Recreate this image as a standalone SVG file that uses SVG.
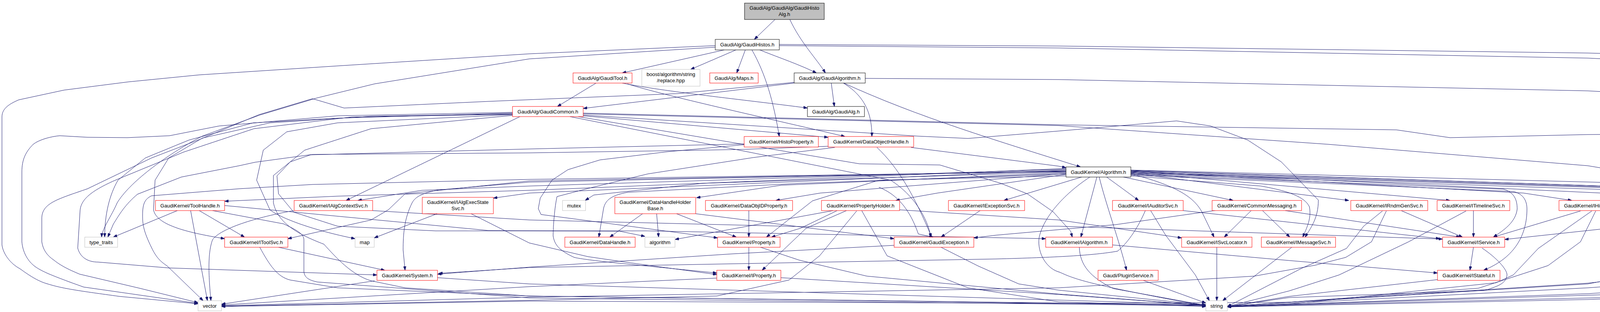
<svg xmlns="http://www.w3.org/2000/svg" width="5420" height="800" viewBox="0 0 5420 800">
<style>
.nd rect{fill:#fff;stroke-width:1}
.r rect{stroke:#ff0000}
.k rect{stroke:#000}
.g rect{stroke:#bfbfbf}
.root rect{fill:#bfbfbf;stroke:#000}
.nd text{font-family:"Liberation Sans",Arial,Helvetica,sans-serif;font-size:13px;text-anchor:middle;fill:#000}
#edges path{fill:none;stroke:#191970;stroke-width:1;marker-end:url(#a)}
</style>
<defs>
<marker id="a" viewBox="0 0 10 7" refX="10" refY="3.5" markerWidth="10" markerHeight="7" markerUnits="userSpaceOnUse" orient="auto"><path d="M0,0L10,3.5L0,7z" fill="#191970" stroke="#191970"/></marker>
</defs>
<rect width="5420" height="800" fill="#fff"/>
<g id="edges">
<path d="M1984,50 L1931,101"/>
<path d="M2022,50 C2050,110 2090,150 2113,187"/>
<path d="M1854,128 L1593,187"/>
<path d="M1884,128 L1768,178"/>
<path d="M1908,128 L1886,187"/>
<path d="M1945,128 C2000,150 2045,165 2090,187"/>
<path d="M1925,128 C1960,190 1980,260 1995,350"/>
<path d="M1995,114 L2710,118 L4065,136 L5093,164 C5170,175 5205,185 5235,225 C5270,275 5300,350 5310,428"/>
<path d="M1995,117 L2710,123 L4065,149 L4583,174 L4895,203 L5098,238 C5150,260 5175,280 5178,300 L5186,608"/>
<path d="M1831,117 L1355,138 L864,169 L510,192 L328,210 L164,231 L48,256 C20,268 5,280 5,300 L5,628 C8,650 25,675 51,689 C80,710 100,722 122,728 C160,740 204,746 306,760 L507,779"/>
<path d="M1831,121 L1355,151 L959,215 L812,251 L665,295 L518,349 C420,400 330,470 300,520 C285,555 262,585 260,608"/>
<path d="M1526,213 L1427,273"/>
<path d="M1593,213 C1700,235 1900,255 2067,277"/>
<path d="M1606,215 C1700,245 1950,300 2163,350"/>
<path d="M2033,213 L1493,278"/>
<path d="M2035,211 L1735,240 L1250,260 L881,277 L800,253 L663,294 L510,358 L388,405 L224,484 C150,510 107,520 107,560 L107,620 C110,640 120,655 138,667 C160,685 190,697 204,703 L357,739 L507,776"/>
<path d="M2128,213 L2136,273"/>
<path d="M2159,213 C2220,250 2232,300 2232,350"/>
<path d="M2160,213 C2350,300 2550,360 2766,428"/>
<path d="M2215,201 L2710,204 L4065,233 L4583,261 L4877,290 L5054,320 C5100,335 5123,350 5123,380 L5123,625 C5118,660 5110,675 5098,685 C5050,700 4980,710 4929,716 L4826,733 L3142,786"/>
<path d="M1331,299 L886,514"/>
<path d="M1312,288 L864,297 L561,323 L434,348 L326,353 L224,352 L153,348 C130,350 100,358 85,370 C65,390 56,410 56,441 L56,620 C58,645 70,670 92,685 C110,697 133,707 214,736 L507,778"/>
<path d="M1312,290 L864,303 L648,315 L484,359 L372,405 L302,462 C280,500 268,550 268,608"/>
<path d="M1312,292 L950,298 L691,315 L518,354 L432,405 L397,462 L393,538 C400,575 470,595 575,612"/>
<path d="M1312,294 L864,315 L734,338 L674,385 L657,462 L691,538 C720,560 800,590 909,612"/>
<path d="M1312,296 L950,330 L780,385 L700,450 L700,520 C710,570 760,600 829,626 C860,660 900,705 950,720 L1037,738 L1355,759 L3087,782"/>
<path d="M1312,293 L900,300 L650,330 L470,390 L300,460 C230,490 207,513 205,540 L199,636 C205,660 225,672 251,672 L432,687 L965,705"/>
<path d="M1493,290 L2710,320 L3575,333 L3712,353 L4065,345 L4367,343 L4700,367 L4843,395 L4964,441 C5020,475 5050,500 5054,525 C5054,555 5030,568 4998,574 L4391,620"/>
<path d="M1493,292 L2710,322 L3400,370 L4065,425 L4601,514"/>
<path d="M1493,295 L2349,349 L2478,355 L2710,336 L3012,310 L3099,323 L3194,359 L3280,415 L3375,513 C3375,560 3355,585 3341,608"/>
<path d="M1493,297 L2120,352"/>
<path d="M1459,299 L2280,462 C2340,500 2375,560 2383,608"/>
<path d="M1480,299 L2200,420 L2406,423 L2562,470 L2630,497 L2696,543 L2741,593 L2745,608"/>
<path d="M1905,369 L1355,382 L795,397 L743,415 L709,451 L713,497 L752,544 L864,580 L1115,592 L1657,592 L2677,612"/>
<path d="M1905,371 L1709,389 L1536,410 L1454,435 L1413,462 L1383,508 L1378,535 L1385,550 L1837,610"/>
<path d="M2121,375 L1903,383 L1800,385 L1355,392 L800,396 L653,416 L612,425 L464,454 L352,498 C320,525 306,549 290,575 L276,608"/>
<path d="M2332,378 L2710,426 L2729,430"/>
<path d="M2245,378 C2300,430 2340,500 2385,608"/>
<path d="M2137,378 L1928,404 L1658,446 L1506,483 L1426,504 C1420,530 1416,580 1416,605 C1420,630 1434,643 1470,660 C1505,668 1607,677 1835,700"/>
<path d="M1206,548 L1355,623 L1505,658 L1607,673 L1835,704"/>
<path d="M2250,480 C2300,500 2330,540 2351,600 L2389,608"/>
<path d="M2729,432 L1355,488 L864,503 L575,516"/>
<path d="M2729,434 L1355,477 L1080,488 L916,514"/>
<path d="M2729,436 L1355,495 L1263,508"/>
<path d="M2729,438 L1355,467 L1123,487 C1080,495 1063,505 1055,520 C1035,560 1032,600 1032,641 L1037,693"/>
<path d="M2729,439 L1355,464 L1037,497 L994,538 L950,564 L737,612"/>
<path d="M2729,440 L1355,460 L800,473 L612,484 L388,502 C372,510 365,520 365,552 C365,575 367,592 388,635 C400,660 410,670 428,682 L520,771"/>
<path d="M2729,441 L1800,470 L1520,500 L1498,514"/>
<path d="M2729,443 L2000,475 L1783,507"/>
<path d="M2729,445 L2100,495 L1986,514"/>
<path d="M2729,447 L2400,495 L2293,514"/>
<path d="M2769,454 L2570,514"/>
<path d="M2808,454 L2767,608"/>
<path d="M2729,451 L2250,462 L2080,515 L1962,608"/>
<path d="M2729,446 L2050,470 L1607,493 C1570,500 1550,510 1545,535 L1533,608"/>
<path d="M2790,454 C2720,500 2670,560 2660,610 C2655,650 2680,690 2713,698 C2760,720 2805,732 3087,785"/>
<path d="M2814,454 C2830,520 2866,620 2884,693"/>
<path d="M2833,454 L2866,478 L2915,514"/>
<path d="M2876,454 L3157,514"/>
<path d="M2895,446 C3009,475 3060,505 3080,550 L3108,608"/>
<path d="M2895,451 L3228,477 C3300,490 3340,505 3352,530 C3358,560 3345,585 3335,608"/>
<path d="M2895,444 L3453,514"/>
<path d="M2895,442 L3712,514"/>
<path d="M2895,440 L3900,495 L4024,514"/>
<path d="M2895,439 L4100,495 L4245,514"/>
<path d="M2895,438 L4200,480 L4612,514"/>
<path d="M2895,437 L4500,490 L4879,514"/>
<path d="M2895,441 L4357,487 C4390,495 4408,507 4408,525 C4408,560 4385,580 4351,600"/>
<path d="M2895,443 L4391,490 C4420,497 4434,515 4434,561 C4430,600 4410,640 4339,693"/>
<path d="M2895,445 L4437,497 C4460,505 4490,540 4500,574 C4510,610 4515,650 4515,693"/>
<path d="M2895,436 L4724,484 C4760,492 4800,520 4810,557 C4818,590 4815,640 4807,693"/>
<path d="M2895,447 L3849,485 C3875,493 3884,510 3884,536 C3880,570 3850,590 3823,608"/>
<path d="M2895,449 L3874,491 C3900,497 3909,515 3909,536 C3909,600 3880,660 3798,693"/>
<path d="M454,540 L290,608"/>
<path d="M488,540 L531,771"/>
<path d="M510,540 L626,608"/>
<path d="M544,540 L726,574 C760,590 778,600 778,615 L778,697 C780,712 790,718 812,723 L1355,764 L3087,784"/>
<path d="M575,527 L1250,591 L1587,593 L1651,606"/>
<path d="M752,540 C640,560 560,590 544,615 C535,640 531,680 540,771"/>
<path d="M954,540 L1355,564 L2050,581 L2710,580 L3693,613"/>
<path d="M1119,548 L958,610"/>
<path d="M1645,548 L1561,608"/>
<path d="M1681,548 L1686,608"/>
<path d="M1732,548 L1885,608"/>
<path d="M1781,548 L2289,612"/>
<path d="M1917,540 L1917,608"/>
<path d="M2133,540 L1728,614"/>
<path d="M2143,540 L2050,585 L1975,608"/>
<path d="M2167,540 L2064,585 L1951,693"/>
<path d="M2193,541 L2098,656 L2020,718 L1835,759 L1355,770 L567,785"/>
<path d="M2206,540 L2271,656 L2478,738 L2710,774 L3087,786"/>
<path d="M2303,538 L2710,564 L3025,610"/>
<path d="M2509,540 L2409,608"/>
<path d="M3029,540 L3686,612"/>
<path d="M2945,539 L2984,603 L3060,705 L3096,771"/>
<path d="M2932,540 C2915,580 2890,620 2861,644 C2800,655 2700,660 2550,664 L1355,686 L1123,701"/>
<path d="M3290,540 L3738,608"/>
<path d="M3203,540 L3134,608"/>
<path d="M3232,540 L3302,608"/>
<path d="M3116,539 L2856,576 L2550,603 L2493,610"/>
<path d="M3587,540 L3744,608"/>
<path d="M3539,541 L3491,580 L3447,637 L3332,688 L3142,786"/>
<path d="M3549,541 L3511,620 L3445,660 L3367,680 L3211,708 L2710,738 L1355,762 L567,784"/>
<path d="M3772,540 L3772,608"/>
<path d="M3753,541 L3606,620 L3428,705 L3300,746 L3142,786"/>
<path d="M4046,541 L3823,608"/>
<path d="M4117,540 L4246,600"/>
<path d="M4075,541 L3938,637 L3874,705 L3830,725 L3300,780 L3142,787"/>
<path d="M4085,541 L4046,620 L3963,681 L3785,739 L3300,775 L2710,778 L1355,772 L567,786"/>
<path d="M4301,540 L4301,600"/>
<path d="M4567,537 L3852,614"/>
<path d="M4672,540 L4670,601 L4655,658 L4621,718 L4150,762 L3142,786"/>
<path d="M4973,540 L5162,610"/>
<path d="M5309,454 C5300,520 5280,580 5257,615 C5230,670 5180,710 5141,720 L5059,733 L4065,768 L3142,787"/>
<path d="M4264,642 L4186,682 L4117,718 L4065,728 L3142,785"/>
<path d="M4189,712 L4065,726 L3142,785"/>
<path d="M4425,712 L4065,738 L3142,786"/>
<path d="M4701,713 L4065,753 L3142,786"/>
<path d="M713,634 L985,693"/>
<path d="M665,634 C690,680 710,710 743,718 L864,738 L1355,759 L3087,783"/>
<path d="M1917,634 L1917,693"/>
<path d="M1947,634 L2046,667 L2219,708 L2710,754 L3087,783"/>
<path d="M2289,629 L1874,651 L1355,685 L1120,703"/>
<path d="M2409,634 L2504,682 L2608,728 L2710,744 L3087,782"/>
<path d="M2848,628 L3300,668 L3680,700"/>
<path d="M2763,634 C2765,680 2790,710 2850,740 L3087,783"/>
<path d="M3115,634 L3115,771"/>
<path d="M3307,634 L3130,771"/>
<path d="M3772,634 L3763,693"/>
<path d="M3794,636 C3830,660 3858,690 3858,705 C3855,725 3842,732 3800,745 L3300,763 L3142,786"/>
<path d="M959,720 L567,780"/>
<path d="M1120,712 L1355,728 L3087,781"/>
<path d="M1999,712 L2710,755 L3087,783"/>
<path d="M1835,713 L1355,735 L567,782"/>
<path d="M2927,719 L3087,777"/>
<path d="M3680,717 L3300,760 L3142,786"/>
</g>
<g id="n0" class="nd root"><rect x="1906" y="8" width="204" height="42"/><text x="2008" y="25">GaudiAlg/GaudiAlg/GaudiHisto</text><text x="2008" y="41">Alg.h</text></g>
<g id="n1" class="nd k"><rect x="1831" y="101" width="164" height="27"/><text x="1913" y="119">GaudiAlg/GaudiHistos.h</text></g>
<g id="n2" class="nd r"><rect x="1467" y="187" width="151" height="26"/><text x="1542.5" y="204.5">GaudiAlg/GaudiTool.h</text></g>
<g id="n3" class="nd g"><rect x="1643" y="178" width="149" height="43"/><text x="1717.5" y="195">boost/algorithm/string</text><text x="1717.5" y="211">/replace.hpp</text></g>
<g id="n4" class="nd r"><rect x="1817" y="187" width="124" height="26"/><text x="1879" y="204.5">GaudiAlg/Maps.h</text></g>
<g id="n5" class="nd k"><rect x="2033" y="187" width="182" height="26"/><text x="2124" y="204.5">GaudiAlg/GaudiAlgorithm.h</text></g>
<g id="n6" class="nd r"><rect x="1312" y="273" width="181" height="26"/><text x="1402.5" y="290.5">GaudiAlg/GaudiCommon.h</text></g>
<g id="n7" class="nd k"><rect x="2067" y="273" width="146" height="26"/><text x="2140" y="290.5">GaudiAlg/GaudiAlg.h</text></g>
<g id="n8" class="nd r"><rect x="1905" y="350" width="190" height="27"/><text x="2000" y="368">GaudiKernel/HistoProperty.h</text></g>
<g id="n9" class="nd r"><rect x="2120" y="350" width="219" height="27"/><text x="2229.5" y="368">GaudiKernel/DataObjectHandle.h</text></g>
<g id="n10" class="nd k"><rect x="2729" y="428" width="166" height="26"/><text x="2812" y="445.5">GaudiKernel/Algorithm.h</text></g>
<g id="n11" class="nd r"><rect x="5213" y="428" width="201" height="26"/><text x="5313.5" y="445.5">GaudiUtils/HistoTableFormat.h</text></g>
<g id="n12" class="nd r"><rect x="398" y="514" width="177" height="26"/><text x="486.5" y="531.5">GaudiKernel/ToolHandle.h</text></g>
<g id="n13" class="nd r"><rect x="753" y="514" width="201" height="26"/><text x="853.5" y="531.5">GaudiKernel/IAlgContextSvc.h</text></g>
<g id="n14" class="nd r"><rect x="1081" y="506" width="182" height="42"/><text x="1172" y="523">GaudiKernel/IAlgExecState</text><text x="1172" y="539">Svc.h</text></g>
<g id="n15" class="nd g"><rect x="1440" y="514" width="59" height="26"/><text x="1469.5" y="531.5">mutex</text></g>
<g id="n16" class="nd r"><rect x="1574" y="506" width="207" height="42"/><text x="1677.5" y="523">GaudiKernel/DataHandleHolder</text><text x="1677.5" y="539">Base.h</text></g>
<g id="n17" class="nd r"><rect x="1806" y="514" width="223" height="26"/><text x="1917.5" y="531.5">GaudiKernel/DataObjIDProperty.h</text></g>
<g id="n18" class="nd r"><rect x="2103" y="514" width="200" height="26"/><text x="2203" y="531.5">GaudiKernel/PropertyHolder.h</text></g>
<g id="n19" class="nd r"><rect x="2428" y="514" width="195" height="26"/><text x="2525.5" y="531.5">GaudiKernel/IExceptionSvc.h</text></g>
<g id="n20" class="nd r"><rect x="2848" y="514" width="181" height="26"/><text x="2938.5" y="531.5">GaudiKernel/IAuditorSvc.h</text></g>
<g id="n21" class="nd r"><rect x="3103" y="514" width="229" height="26"/><text x="3217.5" y="531.5">GaudiKernel/CommonMessaging.h</text></g>
<g id="n22" class="nd r"><rect x="3458" y="514" width="197" height="26"/><text x="3556.5" y="531.5">GaudiKernel/IRndmGenSvc.h</text></g>
<g id="n23" class="nd r"><rect x="3679" y="514" width="186" height="26"/><text x="3772" y="531.5">GaudiKernel/ITimelineSvc.h</text></g>
<g id="n24" class="nd r"><rect x="3991" y="514" width="197" height="26"/><text x="4089.5" y="531.5">GaudiKernel/IHistogramSvc.h</text></g>
<g id="n25" class="nd r"><rect x="4213" y="514" width="177" height="26"/><text x="4301.5" y="531.5">GaudiKernel/INTupleSvc.h</text></g>
<g id="n26" class="nd r"><rect x="4567" y="514" width="204" height="26"/><text x="4669" y="531.5">GaudiKernel/IChronoStatSvc.h</text></g>
<g id="n27" class="nd r"><rect x="4847" y="514" width="189" height="26"/><text x="4941.5" y="531.5">GaudiKernel/EventContext.h</text></g>
<g id="n28" class="nd g"><rect x="217" y="608" width="84" height="26"/><text x="259" y="625.5">type_traits</text></g>
<g id="n29" class="nd r"><rect x="575" y="608" width="162" height="26"/><text x="656" y="625.5">GaudiKernel/IToolSvc.h</text></g>
<g id="n30" class="nd g"><rect x="909" y="608" width="49" height="26"/><text x="933.5" y="625.5">map</text></g>
<g id="n31" class="nd r"><rect x="1446" y="608" width="180" height="26"/><text x="1536" y="625.5">GaudiKernel/DataHandle.h</text></g>
<g id="n32" class="nd g"><rect x="1651" y="608" width="77" height="26"/><text x="1689.5" y="625.5">algorithm</text></g>
<g id="n33" class="nd r"><rect x="1837" y="608" width="160" height="26"/><text x="1917" y="625.5">GaudiKernel/Property.h</text></g>
<g id="n34" class="nd r"><rect x="2289" y="608" width="204" height="26"/><text x="2391" y="625.5">GaudiKernel/GaudiException.h</text></g>
<g id="n35" class="nd r"><rect x="2677" y="608" width="171" height="26"/><text x="2762.5" y="625.5">GaudiKernel/IAlgorithm.h</text></g>
<g id="n36" class="nd r"><rect x="3025" y="608" width="180" height="26"/><text x="3115" y="625.5">GaudiKernel/ISvcLocator.h</text></g>
<g id="n37" class="nd r"><rect x="3229" y="608" width="190" height="26"/><text x="3324" y="625.5">GaudiKernel/IMessageSvc.h</text></g>
<g id="n38" class="nd r"><rect x="3693" y="608" width="159" height="26"/><text x="3772.5" y="625.5">GaudiKernel/IService.h</text></g>
<g id="n39" class="nd r"><rect x="4211" y="600" width="180" height="42"/><text x="4301" y="617">GaudiKernel/IDataProvider</text><text x="4301" y="633">Svc.h</text></g>
<g id="n40" class="nd g"><rect x="5162" y="608" width="52" height="26"/><text x="5188" y="625.5">limits</text></g>
<g id="n41" class="nd r"><rect x="965" y="693" width="155" height="26"/><text x="1042.5" y="710.5">GaudiKernel/System.h</text></g>
<g id="n42" class="nd r"><rect x="1835" y="693" width="164" height="26"/><text x="1917" y="710.5">GaudiKernel/IProperty.h</text></g>
<g id="n43" class="nd r"><rect x="2811" y="693" width="154" height="26"/><text x="2888" y="710.5">Gaudi/PluginService.h</text></g>
<g id="n44" class="nd r"><rect x="3680" y="693" width="160" height="26"/><text x="3760" y="710.5">GaudiKernel/IStateful.h</text></g>
<g id="n45" class="nd r"><rect x="4189" y="693" width="210" height="26"/><text x="4294" y="710.5">GaudiKernel/IHiveWhiteBoard.h</text></g>
<g id="n46" class="nd r"><rect x="4425" y="693" width="182" height="26"/><text x="4516" y="710.5">GaudiKernel/IMonitorSvc.h</text></g>
<g id="n47" class="nd r"><rect x="4701" y="693" width="203" height="26"/><text x="4802.5" y="710.5">GaudiKernel/IConversionSvc.h</text></g>
<g id="n48" class="nd g"><rect x="507" y="771" width="60" height="26"/><text x="537" y="788.5">vector</text></g>
<g id="n49" class="nd g"><rect x="3087" y="771" width="55" height="26"/><text x="3114.5" y="788.5">string</text></g>
</svg>
